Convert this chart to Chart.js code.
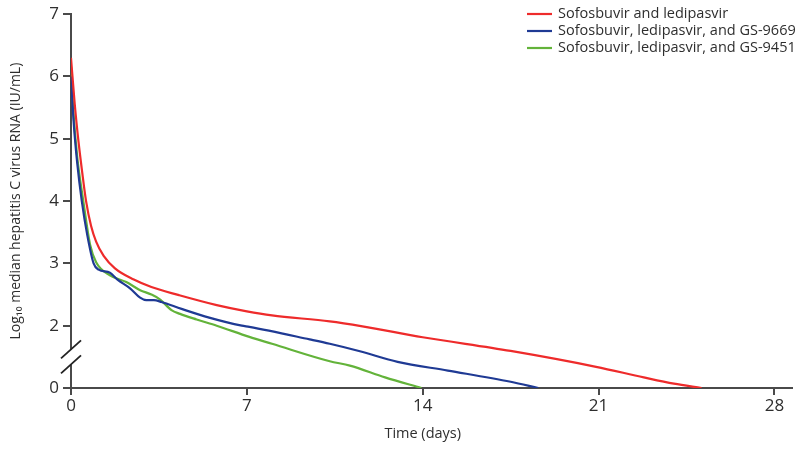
<!DOCTYPE html>
<html>
<head>
<meta charset="utf-8">
<script src="https://cdn.jsdelivr.net/npm/chart.js@4/dist/chart.umd.min.js"></script>
<style>
  html, body { margin: 0; padding: 0; background: #fff; }
  #wrap { width: 800px; height: 449px; position: relative; }
</style>
</head>
<body>
<div id="wrap"><canvas id="c" width="800" height="449"></canvas></div>
<script>
// ---- Data (days, log10 median HCV RNA IU/mL) ----
const seriesNames = [
  'Sofosbuvir and ledipasvir',
  'Sofosbuvir, ledipasvir, and GS-9669',
  'Sofosbuvir, ledipasvir, and GS-9451'
];
const seriesColors = ['#ee2b2b', '#1f3a94', '#63b33a'];

const daysSL = [0, 0.15, 0.3, 0.45, 0.6, 0.8, 1.0, 1.3, 1.75, 2.5, 3.2, 4.3, 5.8, 7, 8, 10.3, 11.6, 14, 17.5, 20.9, 22.8, 24, 25.1];
const rnaSL  = [6.3, 5.55, 4.95, 4.45, 4.0, 3.6, 3.35, 3.12, 2.92, 2.74, 2.62, 2.49, 2.33, 2.23, 2.165, 2.07, 1.98, 1.63, 1.19, 0.68, 0.34, 0.14, 0];

const daysSL9669 = [0, 0.1, 0.25, 0.43, 0.65, 0.9, 1.1, 1.55, 1.85, 2.35, 2.75, 3.0, 3.3, 3.6, 4.4, 5.5, 6.8, 7.1, 9.5, 10.3, 11.5, 13, 15, 17.5, 18.6];
const rnaSL9669  = [6.0, 5.3, 4.6, 4.0, 3.45, 3.0, 2.9, 2.85, 2.74, 2.6, 2.45, 2.41, 2.41, 2.38, 2.27, 2.13, 2.0, 1.96, 1.56, 1.42, 1.18, 0.84, 0.56, 0.2, 0];

const daysSL9451 = [0, 0.1, 0.25, 0.49, 0.76, 1.0, 1.55, 2.2, 2.75, 3.2, 3.55, 4.0, 4.34, 5.0, 5.8, 7.1, 8, 10.3, 11.1, 12.5, 13.95];
const rnaSL9451  = [6.15, 5.4, 4.7, 4.0, 3.3, 3.02, 2.81, 2.7, 2.57, 2.5, 2.42, 2.25, 2.19, 2.1, 2.0, 1.64, 1.42, 0.86, 0.72, 0.34, 0];

const xTickValues = [0, 7, 14, 21, 28];
const yTickValues = [0, 2, 3, 4, 5, 6, 7];

// Broken axis: the 0–2 range is compressed into one axis unit (shown between the "0" and "2" ticks)
function toAxis(v) { return v >= 2 ? v : 1 + v / 2; }
function fromAxis(a) { return a >= 2 ? a : (a - 1) * 2; }

const allDays = [daysSL, daysSL9669, daysSL9451];
const allRna = [rnaSL, rnaSL9669, rnaSL9451];

const datasets = seriesNames.map((name, i) => ({
  label: name,
  data: allDays[i].map((d, j) => ({ x: d, y: toAxis(allRna[i][j]) })),
  borderColor: seriesColors[i],
  backgroundColor: seriesColors[i],
  borderWidth: 2.2,
  pointRadius: 0,
  fill: false,
  cubicInterpolationMode: 'monotone'
}));

const FONT = '"Open Sans", "Noto Sans", sans-serif';
const AXIS_COLOR = '#4a4a4a';
const TEXT_COLOR = '#2e2e2e';

const decorPlugin = {
  id: 'decor',
  afterDraw(chart) {
    const ctx = chart.ctx;
    const xs = chart.scales.x, ys = chart.scales.y;
    const axX = xs.left;
    ctx.save();
    // axis break on the y axis
    const yA = ys.getPixelForValue(1.62), yB = ys.getPixelForValue(1.38);
    ctx.fillStyle = '#ffffff';
    ctx.fillRect(axX - 2, yA, 4, yB - yA);
    ctx.strokeStyle = '#222';
    ctx.lineWidth = 1.8;
    [yA, yB].forEach(yy => {
      ctx.beginPath();
      ctx.moveTo(axX - 10, yy + 9);
      ctx.lineTo(axX + 10, yy - 9);
      ctx.stroke();
    });
    // axis titles
    ctx.fillStyle = TEXT_COLOR;
    ctx.font = '14.5px ' + FONT;
    ctx.textAlign = 'center';
    ctx.textBaseline = 'middle';
    const cx = (xs.getPixelForValue(0) + xs.getPixelForValue(28)) / 2;
    ctx.fillText('Time (days)', cx, 434);
    ctx.save();
    ctx.translate(16, (ys.top + ys.bottom) / 2);
    ctx.rotate(-Math.PI / 2);
    ctx.font = '14px ' + FONT;
    ctx.fillText('Log\u2081\u2080 median hepatitis C virus RNA (IU/mL)', 0, 0);
    ctx.restore();
    // legend
    ctx.font = '14.5px ' + FONT;
    ctx.textAlign = 'left';
    const rowsY = [14, 31, 48];
    seriesNames.forEach((name, i) => {
      ctx.strokeStyle = seriesColors[i];
      ctx.lineWidth = 2.2;
      ctx.beginPath();
      ctx.moveTo(527, rowsY[i]);
      ctx.lineTo(552, rowsY[i]);
      ctx.stroke();
      ctx.fillStyle = TEXT_COLOR;
      ctx.fillText(name, 558, rowsY[i]);
    });
    ctx.restore();
  }
};

new Chart(document.getElementById('c'), {
  type: 'line',
  data: { datasets },
  plugins: [decorPlugin],
  options: {
    responsive: false,
    animation: false,
    devicePixelRatio: 1,
    layout: { padding: { top: 14, right: 8, left: 0, bottom: 0 } },
    plugins: { legend: { display: false }, tooltip: { enabled: false } },
    scales: {
      x: {
        type: 'linear',
        min: 0,
        max: 28.7,
        afterBuildTicks(s) { s.ticks = xTickValues.map(v => ({ value: v })); },
        afterFit(s) { s.height = 61; },
        grid: { display: true, drawOnChartArea: false, drawTicks: true, tickLength: 7, color: AXIS_COLOR, lineWidth: 2 },
        border: { display: true, color: AXIS_COLOR, width: 2 },
        ticks: { color: TEXT_COLOR, font: { family: FONT, size: 17 }, padding: 1, maxRotation: 0 }
      },
      y: {
        type: 'linear',
        min: 1,
        max: 7,
        afterBuildTicks(s) { s.ticks = yTickValues.map(v => ({ value: toAxis(v) })); },
        afterFit(s) { s.width = 71; },
        grid: { display: true, drawOnChartArea: false, drawTicks: true, tickLength: 8, color: AXIS_COLOR, lineWidth: 2 },
        border: { display: true, color: AXIS_COLOR, width: 2 },
        ticks: {
          color: TEXT_COLOR, font: { family: FONT, size: 17 }, padding: 4,
          callback: (v) => String(Math.round(fromAxis(v)))
        }
      }
    }
  }
});
</script>
</body>
</html>
